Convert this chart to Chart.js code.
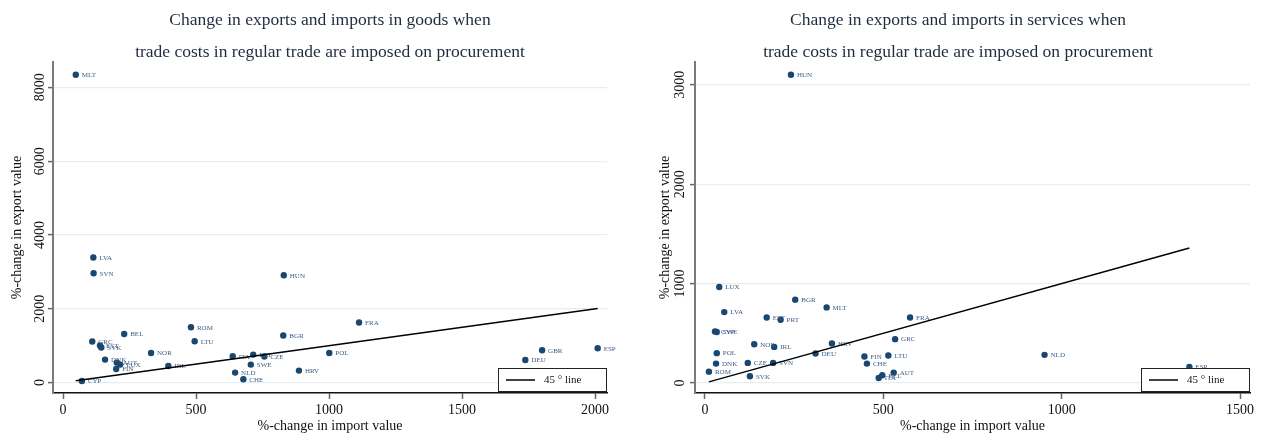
<!DOCTYPE html>
<html>
<head>
<meta charset="utf-8">
<script src="https://cdn.jsdelivr.net/npm/chart.js@4.4.1/dist/chart.umd.min.js"></script>
<style>
  html, body { margin: 0; padding: 0; background: #ffffff; }
  #wrap { position: relative; width: 1264px; height: 441px; }
  .panel { position: absolute; top: 0; width: 632px; height: 441px; }
</style>
</head>
<body>
<div id="wrap">
  <div class="panel" style="left:0"><canvas id="goods" width="632" height="441"></canvas></div>
  <div class="panel" style="left:632px"><canvas id="services" width="632" height="441"></canvas></div>
</div>
<script>
// Goods: %-change in import value (x) and export value (y) per country
const goodsCountries = ['MLT','LVA','SVN','HUN','ROM','BEL','BGR','GRC','LTU','EST','SVK','NOR','POL','DNK','AUT','LUX','FIN','IRL','ITA','PRT','CZE','SWE','NLD','CHE','HRV','CYP','FRA','GBR','DEU','ESP'];
const goodsImport = [48,114,115,830,481,230,828,110,495,139,144,331,1001,158,202,215,200,396,638,715,757,706,647,678,887,71,1113,1801,1738,2010];
const goodsExport = [8340,3390,2964,2910,1500,1318,1274,1112,1120,1003,949,803,803,623,542,488,369,451,713,759,705,488,271,90,325,43,1627,876,613,930];

// Services: %-change in import value (x) and export value (y) per country
const servicesCountries = ['HUN','LUX','LVA','BGR','MLT','EST','PRT','FRA','CYP','SWE','GRC','NOR','IRL','HRV','DEU','POL','FIN','LTU','CHE','DNK','CZE','SVN','ROM','SVK','AUT','ITA','BEL','NLD','ESP'];
const servicesImport = [241,40,54,253,341,173,212,575,28,33,533,138,194,356,310,33,447,514,454,31,120,191,11,126,529,487,497,952,1358];
const servicesExport = [3101,966,713,838,760,659,636,659,518,512,441,390,363,397,297,300,266,277,195,195,202,202,114,68,104,50,78,283,160];

// Axis tick values
const goodsXTicks = [0, 500, 1000, 1500, 2000];
const goodsYTicks = [0, 2000, 4000, 6000, 8000];
const servicesXTicks = [0, 500, 1000, 1500];
const servicesYTicks = [0, 1000, 2000, 3000];

const NAVY = '#1a476f';
const SERIF = '"Liberation Serif", "Times New Roman", serif';

function toPoints(xs, ys) { return xs.map((x, i) => ({ x: x, y: ys[i] })); }
function diagonal(xs) {
  const lo = Math.min(...xs), hi = Math.max(...xs);
  return [{ x: lo, y: lo }, { x: hi, y: hi }];
}

// Country labels, titles, axis text and the legend box
const decor = {
  id: 'decor',
  afterDatasetDraw(chart, args, opts) {
    if (args.index !== 0) return;
    const ctx = chart.ctx;
    ctx.save();
    ctx.font = '7px ' + SERIF;
    ctx.fillStyle = '#3d5f86';
    ctx.textAlign = 'left';
    ctx.textBaseline = 'middle';
    args.meta.data.forEach((el, i) => ctx.fillText(opts.labels[i], el.x + 6, el.y + 0.5));
    ctx.restore();
  },
  afterDraw(chart, args, opts) {
    const ctx = chart.ctx, ca = chart.chartArea;
    const xs = chart.scales.x, ys = chart.scales.y;
    ctx.save();
    ctx.textAlign = 'center';
    ctx.textBaseline = 'middle';

    ctx.fillStyle = '#1f2b3e';
    ctx.font = '17.5px ' + SERIF;
    opts.title.forEach((t, i) => ctx.fillText(t, opts.titleX, 20 + i * 32));

    ctx.fillStyle = '#111111';
    ctx.font = '14px ' + SERIF;
    xs.ticks.forEach(t => ctx.fillText(String(t.value), xs.getPixelForValue(t.value), ca.bottom + 17));
    ctx.fillText(opts.xTitle, (ca.left + ca.right) / 2, ca.bottom + 33);

    ys.ticks.forEach(t => {
      ctx.save();
      ctx.translate(ca.left - opts.yTickGap, ys.getPixelForValue(t.value));
      ctx.rotate(-Math.PI / 2);
      ctx.fillText(String(t.value), 0, 0);
      ctx.restore();
    });
    ctx.save();
    ctx.translate(ca.left - opts.yTitleGap, (ca.top + ca.bottom) / 2);
    ctx.rotate(-Math.PI / 2);
    ctx.fillText(opts.yTitle, 0, 0);
    ctx.restore();

    // legend
    const bw = 108, bh = 23;
    const bx = ca.right - 1 - bw, by = ca.bottom - 2 - bh;
    ctx.fillStyle = '#ffffff';
    ctx.fillRect(bx, by, bw, bh);
    ctx.strokeStyle = '#222222';
    ctx.lineWidth = 1;
    ctx.strokeRect(bx + 0.5, by + 0.5, bw, bh);
    ctx.beginPath();
    ctx.moveTo(bx + 8, by + bh / 2 + 0.5);
    ctx.lineTo(bx + 37, by + bh / 2 + 0.5);
    ctx.lineWidth = 1.5;
    ctx.strokeStyle = '#000000';
    ctx.stroke();
    ctx.fillStyle = '#111111';
    ctx.font = '11px ' + SERIF;
    ctx.textAlign = 'left';
    ctx.fillText('45 \u00b0 line', bx + 46, by + bh / 2 + 1);
    ctx.restore();
  }
};

function makeChart(id, cfg) {
  return new Chart(document.getElementById(id), {
    type: 'scatter',
    data: {
      datasets: [
        {
          data: toPoints(cfg.xs, cfg.ys),
          backgroundColor: NAVY,
          borderWidth: 0,
          pointRadius: 3.2,
          order: 1
        },
        {
          type: 'line',
          data: diagonal(cfg.xs),
          borderColor: '#000000',
          borderWidth: 1.5,
          pointRadius: 0,
          fill: false,
          order: 0
        }
      ]
    },
    options: {
      responsive: false,
      animation: false,
      devicePixelRatio: 1,
      events: [],
      layout: { padding: { top: 62, right: cfg.padRight, bottom: 0, left: 0 } },
      plugins: {
        legend: { display: false },
        tooltip: { enabled: false },
        decor: {
          labels: cfg.labels,
          title: cfg.title,
          titleX: cfg.titleX,
          xTitle: '%-change in import value',
          yTitle: '%-change in export value',
          yTickGap: cfg.yTickGap,
          yTitleGap: cfg.yTitleGap
        }
      },
      scales: {
        x: {
          type: 'linear',
          min: cfg.xMin, max: cfg.xMax,
          afterBuildTicks: s => { s.ticks = cfg.xTicks.map(v => ({ value: v })); },
          afterFit: s => { s.height = 48; },
          ticks: { display: false },
          grid: { display: true, drawOnChartArea: false, drawTicks: true, tickLength: 6, tickColor: '#666666', tickWidth: 1.5 },
          border: { display: true, color: '#111111', width: 1.5 }
        },
        y: {
          type: 'linear',
          min: cfg.yMin, max: cfg.yMax,
          afterBuildTicks: s => { s.ticks = cfg.yTicks.map(v => ({ value: v })); },
          afterFit: s => { s.width = cfg.yWidth; },
          ticks: { display: false },
          grid: { display: true, drawOnChartArea: true, drawTicks: true, tickLength: 5, color: '#e6eef1', lineWidth: 1.2, tickColor: '#666666', tickWidth: 1.5 },
          border: { display: true, color: '#7a7a7a', width: 2 }
        }
      }
    },
    plugins: [decor]
  });
}

makeChart('goods', {
  xs: goodsImport, ys: goodsExport, labels: goodsCountries,
  title: ['Change in exports and imports in goods when', 'trade costs in regular trade are imposed on procurement'],
  titleX: 330,
  xMin: -37.6, xMax: 2045, yMin: -282, yMax: 8686,
  xTicks: goodsXTicks, yTicks: goodsYTicks,
  yWidth: 53, padRight: 25, yTickGap: 13, yTitleGap: 36
});

makeChart('services', {
  xs: servicesImport, ys: servicesExport, labels: servicesCountries,
  title: ['Change in exports and imports in services when', 'trade costs in regular trade are imposed on procurement'],
  titleX: 326,
  xMin: -28, xMax: 1528, yMin: -101, yMax: 3229,
  xTicks: servicesXTicks, yTicks: servicesYTicks,
  yWidth: 63, padRight: 14, yTickGap: 15, yTitleGap: 30
});
</script>
</body>
</html>
